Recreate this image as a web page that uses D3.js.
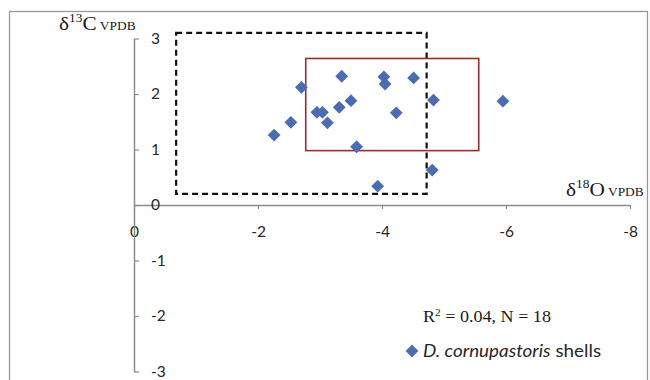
<!DOCTYPE html>
<html>
<head>
<meta charset="utf-8">
<script src="https://cdn.jsdelivr.net/npm/d3@7"></script>
<style>
  body { margin: 0; background: #fff; }
  svg { display: block; }
</style>
</head>
<body>
<svg id="chart" width="650" height="380"></svg>
<script>
// d18O (x) and d13C (y) of the shells
var d18O = [-2.26, -2.53, -2.70, -2.95, -3.04, -3.12, -3.31, -3.35, -3.50,
            -3.59, -3.93, -4.03, -4.05, -4.23, -4.51, -4.81, -4.83, -5.95];
var d13C = [1.26, 1.49, 2.12, 1.67, 1.67, 1.48, 1.76, 2.32, 1.88,
            1.05, 0.34, 2.31, 2.18, 1.66, 2.29, 0.63, 1.89, 1.87];

var xTicks = [0, -2, -4, -6, -8];
var yTicks = [-3, -2, -1, 0, 1, 2, 3];

// reference boxes: [x0, x1, y0, y1] in data units
var dashedBox = [-0.68, -4.72, 0.2, 3.1];
var redBox = [-2.77, -5.56, 0.98, 2.64];

var seriesName = 'D. cornupastoris';

var svg = d3.select('#chart');
var blue = '#4a6bb5';
var axisGrey = '#8c8c8c';
var sans = 'Lato, "Open Sans", sans-serif';
var serif = '"Liberation Serif", "DejaVu Serif", serif';

// outer frame
svg.append('rect')
    .attr('x', 9.5).attr('y', 11.5)
    .attr('width', 638).attr('height', 380)
    .attr('fill', 'none')
    .attr('stroke', '#999')
    .attr('stroke-width', 1.3);

var x = d3.scaleLinear().domain([0, -8]).range([134, 630]);
var y = d3.scaleLinear().domain([-3, 3]).range([371.5, 38.5]);

// x axis through y = 0
var gx = svg.append('g')
    .attr('transform', 'translate(0,' + y(0) + ')')
    .call(d3.axisBottom(x).tickValues(xTicks).tickSize(4).tickSizeOuter(0)
        .tickFormat(function(d) { return String(d); }));

gx.selectAll('text')
    .attr('y', 32).attr('dy', 0);

// y axis at x = 0
var gy = svg.append('g')
    .attr('transform', 'translate(' + x(0) + ',0)')
    .call(d3.axisRight(y).tickValues(yTicks).tickSize(5).tickSizeOuter(0)
        .tickPadding(12)
        .tickFormat(function(d) { return String(d); }));

[gx, gy].forEach(function(g) {
    g.select('.domain').attr('stroke', axisGrey).attr('stroke-width', 1.5);
    g.selectAll('.tick line').attr('stroke', axisGrey).attr('stroke-width', 1.2);
    g.selectAll('text')
        .attr('fill', '#262626')
        .attr('font-family', sans)
        .attr('font-size', '15.5px');
});

// boxes
svg.append('rect')
    .attr('x', x(dashedBox[0])).attr('y', y(dashedBox[3]))
    .attr('width', x(dashedBox[1]) - x(dashedBox[0]))
    .attr('height', y(dashedBox[2]) - y(dashedBox[3]))
    .attr('fill', 'none')
    .attr('stroke', '#111')
    .attr('stroke-width', 2.2)
    .attr('stroke-dasharray', '6,4');

svg.append('rect')
    .attr('x', x(redBox[0])).attr('y', y(redBox[3]))
    .attr('width', x(redBox[1]) - x(redBox[0]))
    .attr('height', y(redBox[2]) - y(redBox[3]))
    .attr('fill', 'none')
    .attr('stroke', '#9e2a2c')
    .attr('stroke-width', 1.6);

// points
var diamond = d3.symbol().type(d3.symbolSquare).size(82);
svg.append('g').selectAll('path')
    .data(d18O.map(function(v, i) { return [v, d13C[i]]; }))
    .enter().append('path')
    .attr('d', diamond)
    .attr('fill', blue)
    .attr('transform', function(d) {
        return 'translate(' + x(d[0]) + ',' + y(d[1]) + ') rotate(45)';
    });

// axis titles (the original figure is a bit stretched sideways)
function isoLabel(px, py, mass, el) {
    var t = svg.append('text')
        .attr('transform', 'translate(' + px + ',' + py + ') scale(1.12,1)')
        .attr('font-family', serif)
        .attr('fill', '#1a1a1a')
        .attr('font-size', '19px');
    t.append('tspan').text('δ');
    t.append('tspan').attr('font-size', '12px').attr('dy', -8).text(mass);
    t.append('tspan').attr('dy', 8).text(el);
    t.append('tspan').attr('font-size', '12px').text(' VPDB');
}
isoLabel(59, 30, '13', 'C');
isoLabel(566, 196, '18', 'O');

// stats
var st = svg.append('text')
    .attr('transform', 'translate(423,322) scale(1.13,1)')
    .attr('font-family', serif)
    .attr('font-size', '16px')
    .attr('fill', '#1a1a1a');
st.append('tspan').text('R');
st.append('tspan').attr('font-size', '10px').attr('dy', -6).text('2');
st.append('tspan').attr('dy', 6).text(' = 0.04, N = 18');

// legend
svg.append('path')
    .attr('d', d3.symbol().type(d3.symbolSquare).size(82))
    .attr('fill', blue)
    .attr('transform', 'translate(412,351) rotate(45)');

var lg = svg.append('text')
    .attr('transform', 'translate(423,357) scale(1.14,1)')
    .attr('font-family', sans)
    .attr('font-size', '16.5px')
    .attr('fill', '#262626');
lg.append('tspan').attr('font-style', 'italic').text(seriesName);
lg.append('tspan').text(' shells');
</script>
</body>
</html>
